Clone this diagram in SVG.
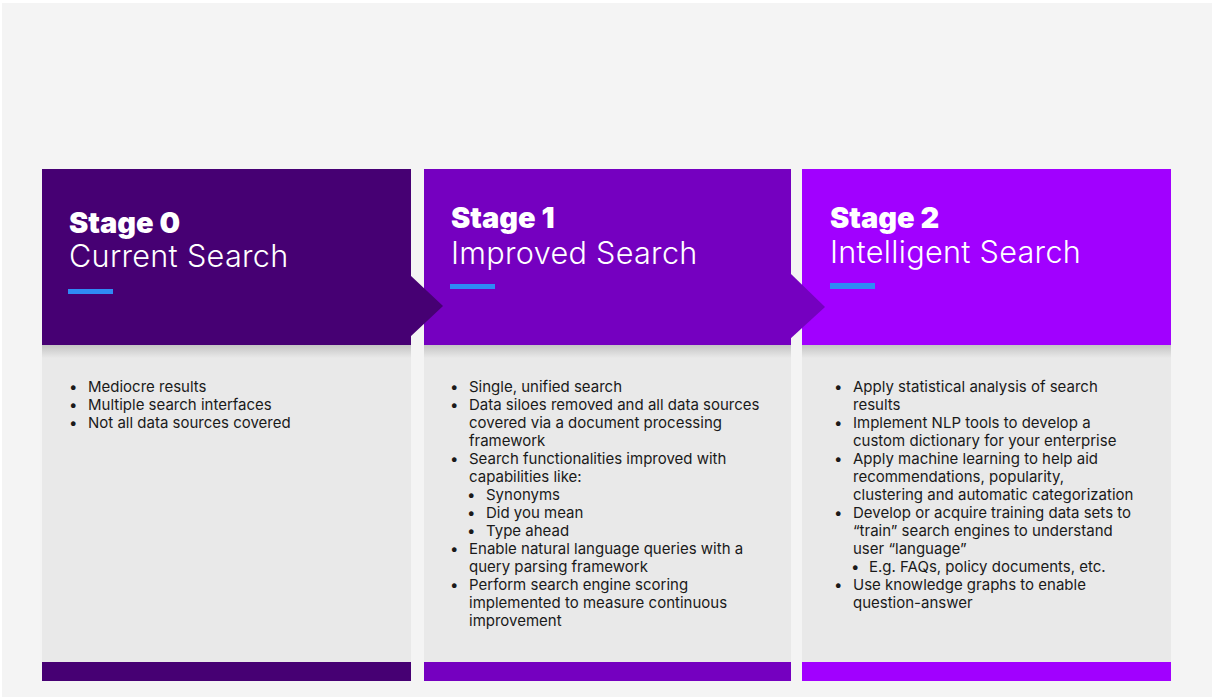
<svg xmlns="http://www.w3.org/2000/svg" width="1212" height="697" viewBox="0 0 1212 697">
<defs>
<linearGradient id="shadow" x1="0" y1="0" x2="0" y2="1">
<stop offset="0" stop-color="#c4c4c4"/>
<stop offset="1" stop-color="#e9e9e9"/>
</linearGradient>
<style>
.body{fill:#e9e9e9}
.shadow{fill:url(#shadow)}
.blue{fill:#2f8af5}
.stage{font-family:Inter,"Liberation Sans",sans-serif;font-weight:900;font-size:29px;fill:#fff;letter-spacing:0px}
.title{font-family:Inter,"Liberation Sans",sans-serif;font-weight:300;font-size:30.6px;fill:#fff;letter-spacing:0.3px}
.txt{font-family:Inter,"Liberation Sans",sans-serif;font-size:15px;fill:#1a1a1a}
.c0{fill:#460073}
.c1{fill:#7500c0}
.c2{fill:#a100ff}
</style>
</defs>
<rect width="1212" height="697" fill="#ffffff"/>
<rect x="2" y="3" width="1210" height="694" fill="#f4f4f4"/>

<g id="stage0">
<rect class="body" x="42" y="345" width="369" height="317"/>
<rect class="shadow" x="42" y="345" width="369" height="13"/>
<rect class="c0" x="42" y="662" width="369" height="19"/>
<rect class="c0" x="42" y="169" width="369" height="176"/>
<text class="stage" x="69" y="233">Stage 0</text>
<text class="title" x="69" y="267">Current Search</text>
<rect class="blue" x="68" y="289" width="45" height="5"/>
<g class="txt">
<text x="69" y="392">•</text><text x="88" y="392">Mediocre results</text>
<text x="69" y="410">•</text><text x="88" y="410">Multiple search interfaces</text>
<text x="69" y="428">•</text><text x="88" y="428">Not all data sources covered</text>
</g>
</g>

<g id="stage1">
<rect class="body" x="424" y="345" width="367" height="317"/>
<rect class="shadow" x="424" y="345" width="367" height="13"/>
<rect class="c1" x="424" y="662" width="367" height="19"/>
<rect class="c1" x="424" y="169" width="367" height="176"/>
<text class="stage" x="451" y="228">Stage 1</text>
<text class="title" x="451" y="264">Improved Search</text>
<rect class="blue" x="450" y="284" width="45" height="5"/>
<g class="txt">
<text x="450" y="392">•</text><text x="469" y="392">Single, unified search</text>
<text x="450" y="410">•</text><text x="469" y="410">Data siloes removed and all data sources</text>
<text x="469" y="428">covered via a document processing</text>
<text x="469" y="446">framework</text>
<text x="450" y="464">•</text><text x="469" y="464">Search functionalities improved with</text>
<text x="469" y="482">capabilities like:</text>
<text x="467" y="500">•</text><text x="486" y="500">Synonyms</text>
<text x="467" y="518">•</text><text x="486" y="518">Did you mean</text>
<text x="467" y="536">•</text><text x="486" y="536">Type ahead</text>
<text x="450" y="554">•</text><text x="469" y="554">Enable natural language queries with a</text>
<text x="469" y="572">query parsing framework</text>
<text x="450" y="590">•</text><text x="469" y="590">Perform search engine scoring</text>
<text x="469" y="608">implemented to measure continuous</text>
<text x="469" y="626">improvement</text>
</g>
</g>

<g id="stage2">
<rect class="body" x="802" y="345" width="369" height="317"/>
<rect class="shadow" x="802" y="345" width="369" height="13"/>
<rect class="c2" x="802" y="662" width="369" height="19"/>
<rect class="c2" x="802" y="169" width="369" height="176"/>
<text class="stage" x="830" y="228">Stage 2</text>
<text class="title" x="830" y="263">Intelligent Search</text>
<rect class="blue" x="830" y="283" width="45" height="6"/>
<g class="txt">
<text x="834" y="392">•</text><text x="853" y="392">Apply statistical analysis of search</text>
<text x="853" y="410">results</text>
<text x="834" y="428">•</text><text x="853" y="428">Implement NLP tools to develop a</text>
<text x="853" y="446">custom dictionary for your enterprise</text>
<text x="834" y="464">•</text><text x="853" y="464">Apply machine learning to help aid</text>
<text x="853" y="482">recommendations, popularity,</text>
<text x="853" y="500">clustering and automatic categorization</text>
<text x="834" y="518">•</text><text x="853" y="518">Develop or acquire training data sets to</text>
<text x="853" y="536">“train” search engines to understand</text>
<text x="853" y="554">user “language”</text>
<text x="851" y="572">•</text><text x="869" y="572">E.g. FAQs, policy documents, etc.</text>
<text x="834" y="590">•</text><text x="853" y="590">Use knowledge graphs to enable</text>
<text x="853" y="608">question-answer</text>
</g>
</g>

<g id="connectors">
<polygon class="c0" points="410,275 443,306 410,337"/>
<polygon class="c1" points="790,273 825,307 790,339"/>
</g>
</svg>
